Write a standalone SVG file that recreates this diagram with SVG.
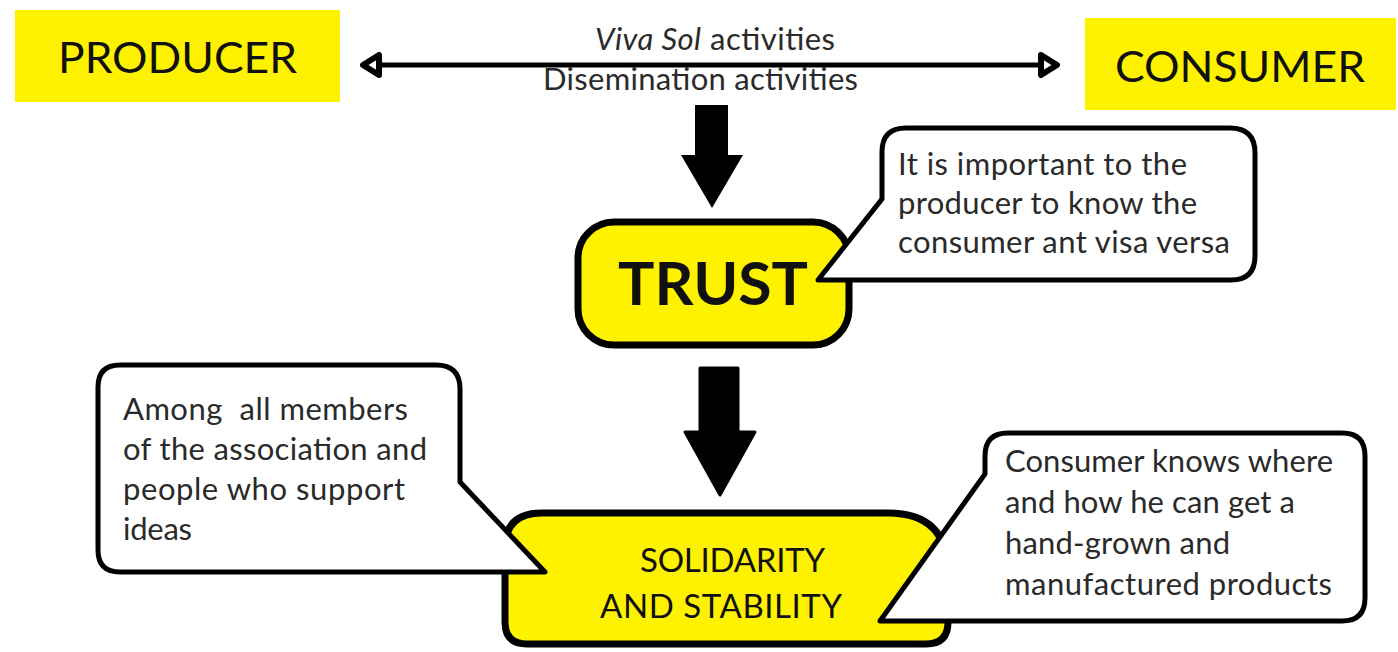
<svg xmlns="http://www.w3.org/2000/svg" width="1398" height="652" viewBox="0 0 1398 652">
<style>
.lbl{font-family:Lato,"Liberation Sans",sans-serif;fill:#111}
.txt{font-family:Lato,"Liberation Sans",sans-serif;font-size:31px;fill:#2a2a2a}
.ybox{fill:#FFF200}
.yshape{fill:#FFF200;stroke:#000;stroke-width:7;stroke-linejoin:round}
.call{fill:#fff;stroke:#000;stroke-width:5;stroke-linejoin:round}
</style>
<defs>
<marker id="openTri" viewBox="0 0 24 30" refX="3" refY="15" markerWidth="24" markerHeight="30" markerUnits="userSpaceOnUse" orient="auto-start-reverse">
<path d="M4,5 L20,15 L4,25 Z" fill="#fff" stroke="#000" stroke-width="6" stroke-linejoin="round"/>
</marker>
</defs>
<rect width="1398" height="652" fill="#fff"/>

<g id="producer">
<rect class="ybox" x="15" y="10" width="325" height="92"/>
<text class="lbl" x="58" y="73" font-size="43" textLength="239" lengthAdjust="spacingAndGlyphs">PRODUCER</text>
</g>

<g id="consumer">
<rect class="ybox" x="1085" y="18" width="311" height="92"/>
<text class="lbl" x="1115" y="82" font-size="43" textLength="250" lengthAdjust="spacingAndGlyphs">CONSUMER</text>
</g>

<g id="connectors">
<line x1="380" y1="65" x2="1040" y2="65" stroke="#000" stroke-width="5" marker-start="url(#openTri)" marker-end="url(#openTri)"/>
<path d="M695,105 H728 V155 H743 L712,208 L681,155 H695 Z" fill="#000"/>
<path d="M700,368 H738 V432 H755 L720,495 L685,432 H700 Z" fill="#000" stroke="#000" stroke-width="3" stroke-linejoin="round"/>
</g>

<g id="activities">
<text class="txt" x="595" y="50" textLength="240"><tspan font-style="italic">Viva Sol</tspan> activities</text>
<text class="txt" x="543" y="90" textLength="315">Disemination activities</text>
</g>

<g id="trust">
<rect class="yshape" x="578" y="222" width="271" height="123" rx="36" ry="36"/>
<text class="lbl" x="618" y="305" font-size="60" font-weight="bold" textLength="190" lengthAdjust="spacingAndGlyphs">TRUST</text>
</g>

<g id="callout-trust">
<path class="call" d="M906,128 H1230 Q1255,128 1255,153 V256 Q1255,280 1231,280 H818 L882,199 V152 Q882,128 906,128 Z"/>
<text class="txt" x="898" y="175" textLength="289">It is important to the</text>
<text class="txt" x="898" y="214" textLength="299">producer to know the</text>
<text class="txt" x="898" y="253" textLength="332">consumer ant visa versa</text>
</g>

<g id="solidarity">
<path class="yshape" d="M542,513 H888 Q948,513 948,573 V622 Q948,644 926,644 H527 Q505,644 505,622 V548 Q505,513 542,513 Z"/>
<text class="lbl" x="640" y="572" font-size="33" textLength="185">SOLIDARITY</text>
<text class="lbl" x="600" y="618" font-size="33" textLength="242">AND STABILITY</text>
</g>

<g id="callout-members">
<path class="call" d="M120,365 H436 Q460,365 460,389 V482 L545,572 H120 Q98,572 98,550 V387 Q98,365 120,365 Z"/>
<text class="txt" x="123" y="420" textLength="285" xml:space="preserve">Among  all members</text>
<text class="txt" x="123" y="460" textLength="304">of the association and</text>
<text class="txt" x="123" y="500" textLength="282">people who support</text>
<text class="txt" x="123" y="540" textLength="69">ideas</text>
</g>

<g id="callout-consumer">
<path class="call" d="M1008,433 H1342 Q1365,433 1365,456 V598 Q1365,621 1342,621 H880 L985,474 V456 Q985,433 1008,433 Z"/>
<text class="txt" x="1005" y="472" textLength="328">Consumer knows where</text>
<text class="txt" x="1005" y="513" textLength="290">and how he can get a</text>
<text class="txt" x="1005" y="554" textLength="225">hand-grown and</text>
<text class="txt" x="1005" y="595" textLength="327">manufactured products</text>
</g>
</svg>
